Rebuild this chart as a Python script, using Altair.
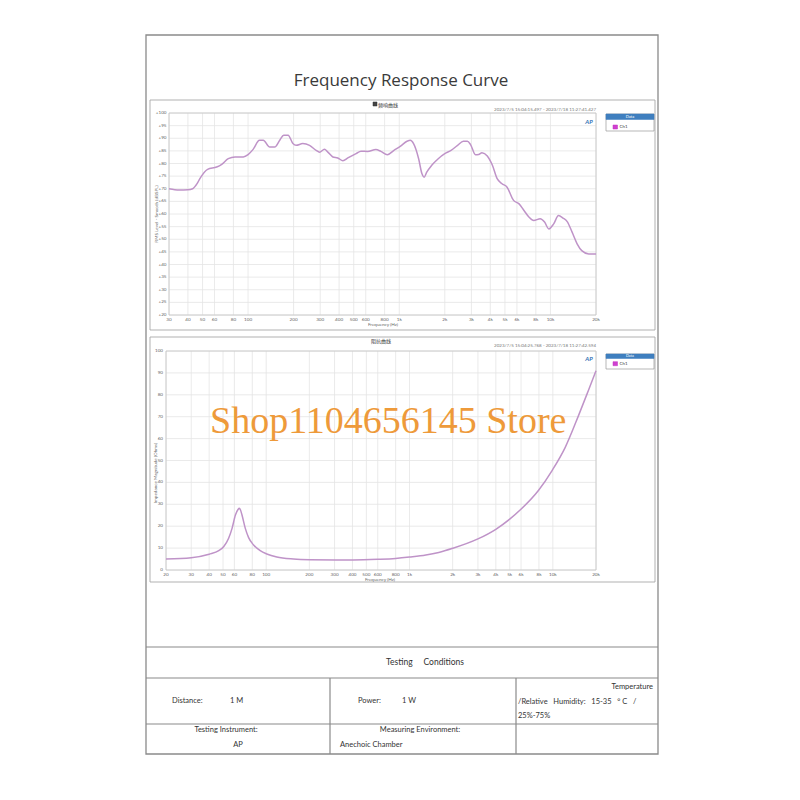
import altair as alt
import pandas as pd

# ---------------- data ----------------
top_freq = [30, 35, 40, 43, 46, 48, 54, 62, 67, 74, 82, 93, 100, 108, 119, 126, 139, 150, 162, 172,
            184, 198, 208, 230, 255, 282, 297, 320, 337, 364, 392, 424, 457, 518, 558, 617, 700, 755, 834, 922,
            1020, 1125, 1183, 1243, 1343, 1411, 1461, 1520, 1640, 1810, 2000, 2200, 2430, 2655, 2820, 2960, 3190, 3350, 3520, 3820,
            4130, 4440, 4780, 5150, 5700, 6200, 6680, 7200, 7750, 8550, 9140, 9750, 10500, 11300, 12100, 12900, 13900, 15000, 16100, 17900,
            20000]
top_db = [70.0, 69.5, 69.6, 70.0, 72.0, 74.0, 77.7, 78.6, 79.7, 81.9, 82.6, 82.6, 83.5, 85.6, 89.2, 89.2, 86.5, 86.5, 89.2, 91.2,
          91.2, 87.9, 87.2, 87.9, 87.2, 85.2, 84.5, 85.6, 84.5, 82.6, 82.2, 81.1, 82.2, 83.9, 84.9, 84.8, 85.5, 84.8, 83.5, 85.2,
          86.9, 88.8, 89.2, 87.9, 81.9, 76.0, 74.6, 76.6, 79.3, 81.9, 83.9, 85.2, 87.2, 88.8, 88.8, 87.5, 83.5, 83.6, 84.3, 83.0,
          79.3, 74.0, 72.0, 70.7, 65.4, 64.0, 61.4, 58.8, 57.4, 58.1, 56.8, 54.1, 56.1, 59.4, 58.4, 57.0, 52.8, 48.2, 45.5, 44.2,
          44.2]

bot_freq = [20, 30, 40, 46.7, 50.6, 54.7, 57.8, 61.0, 63.6, 64.9, 66.2, 67.8, 71.5, 75.4, 81.7, 90.9, 101, 118.6, 155, 202,
            305, 404, 603, 800, 1000, 1300, 1600, 2000, 3000, 4000, 5000, 5960, 7930, 9900, 12200, 15100, 17700, 20000]
bot_ohm = [5.0, 5.6, 7.2, 8.8, 10.7, 14.5, 19.0, 25.1, 27.6, 28.2, 27.4, 25.1, 19.0, 14.8, 11.4, 8.8, 7.3, 5.9, 5.0, 4.7,
           4.6, 4.6, 4.9, 5.3, 5.9, 6.8, 8.0, 9.9, 14.2, 18.6, 23.2, 27.6, 36.3, 45.5, 56.0, 70.5, 82.0, 91.0]

top_xticks = [30, 40, 50, 60, 80, 100, 200, 300, 400, 500, 600, 800, 1000, 2000, 3000, 4000, 5000, 6000, 8000, 10000, 20000]
bot_xticks = [20, 30, 40, 50, 60, 80, 100, 200, 300, 400, 500, 600, 800, 1000, 2000, 3000, 4000, 5000, 6000, 8000, 10000, 20000]
top_yticks = [20, 25, 30, 35, 40, 45, 50, 55, 60, 65, 70, 75, 80, 85, 90, 95, 100]
bot_yticks = [0, 10, 20, 30, 40, 50, 60, 70, 80, 90, 100]

NB = "\u00a0"
page_title = "Frequency Response Curve"
top_panel_title = "频响曲线"
bot_panel_title = "阻抗曲线"
top_stamp = "2023/7/5 15:04:15.497 - 2023/7/18 11:27:41.427"
bot_stamp = "2023/7/5 15:04:25.768 - 2023/7/18 11:27:42.594"
top_ytitle = "RMS Level - Smooth (dBSPL)"
bot_ytitle = "Impedance Magnitude (Ohms)"
xtitle = "Frequency (Hz)"
legend_head = "Data"
legend_item = "Ch1"
watermark = "Shop1104656145 Store"

# ---------------- styling ----------------
FONT = "Lato"
LINE = "#bf93c8"
GRID = "#e4e4e4"
AXT = "#666666"
one = pd.DataFrame({"k": [0]})


def flab(v):
    return f"{v // 1000}k" if v >= 1000 else str(v)


def box(x1, y1, x2, y2, stroke="#999999", fill="transparent", sw=1.0):
    return alt.Chart(one).mark_rect(stroke=stroke, fill=fill, strokeWidth=sw).encode(
        x=alt.value(x1), x2=alt.value(x2), y=alt.value(y1), y2=alt.value(y2))


def hline(x1, x2, y, color="#8a8a8a", sw=1.2):
    return alt.Chart(one).mark_rule(color=color, strokeWidth=sw).encode(
        x=alt.value(x1), x2=alt.value(x2), y=alt.value(y))


def vline(x, y1, y2, color="#8a8a8a", sw=1.2):
    return alt.Chart(one).mark_rule(color=color, strokeWidth=sw).encode(
        x=alt.value(x), y=alt.value(y1), y2=alt.value(y2))


def label(text, x, y, size=8, align="left", baseline="middle", color="#333333",
          font=FONT, angle=0, weight="normal", style="normal"):
    return alt.Chart(one).mark_text(
        align=align, baseline=baseline, fontSize=size, font=font, color=color,
        angle=angle, fontWeight=weight, fontStyle=style
    ).encode(x=alt.value(x), y=alt.value(y), text=alt.value(text))


def panel(freq, vals, xdom, xr, ydom, yr, xticks, yticks, ylabs, xlab_y, ylab_x):
    xs = alt.Scale(type="log", domain=xdom, range=xr, nice=False)
    ys = alt.Scale(type="linear", domain=ydom, range=yr, nice=False, zero=False)
    xt = pd.DataFrame({"v": xticks, "lab": [flab(v) for v in xticks]})
    yt = pd.DataFrame({"v": yticks, "lab": ylabs})
    curve = pd.DataFrame({"f": freq, "v": vals})
    layers = [
        alt.Chart(xt).mark_rule(color=GRID, strokeWidth=0.8).encode(
            x=alt.X("v:Q", scale=xs, axis=None), y=alt.value(yr[1]), y2=alt.value(yr[0])),
        alt.Chart(yt).mark_rule(color=GRID, strokeWidth=0.8).encode(
            y=alt.Y("v:Q", scale=ys, axis=None), x=alt.value(xr[0]), x2=alt.value(xr[1])),
        box(xr[0], yr[1], xr[1], yr[0], stroke="#c4c4c4", sw=0.8),
        alt.Chart(curve).mark_line(interpolate="monotone", color=LINE, strokeWidth=1.5).encode(
            x=alt.X("f:Q", scale=xs, axis=None), y=alt.Y("v:Q", scale=ys, axis=None)),
        alt.Chart(xt).mark_text(fontSize=4.6, font=FONT, color=AXT, baseline="middle").encode(
            x=alt.X("v:Q", scale=xs, axis=None), y=alt.value(xlab_y), text="lab:N"),
        alt.Chart(yt).mark_text(fontSize=4.6, font=FONT, color=AXT, align="right", baseline="middle").encode(
            y=alt.Y("v:Q", scale=ys, axis=None), x=alt.value(ylab_x), text="lab:N"),
    ]
    return layers


layers = []

# page frame
layers.append(box(138, 27, 650, 746, stroke="#8a8a8a", sw=1.3))
layers.append(label(page_title, 393, 73, size=17, align="center", color="#3a3a3a", font="Open Sans"))

# ---- top panel ----
layers.append(box(142, 92, 647, 322, stroke="#a8a8a8", sw=0.9))
layers.append(box(365, 94, 369, 98, stroke="#333333", fill="#444444", sw=0.5))
layers.append(label(top_panel_title, 370, 96.5, size=5, font="Noto Sans CJK SC", color="#333333"))
layers.append(label(top_stamp, 588, 102, size=4.5, align="right", color="#777777"))
layers += panel(top_freq, top_db, [30, 20000], [161, 588], [20, 100], [307, 105],
                top_xticks, top_yticks, [f"+{v}" for v in top_yticks], 311.5, 158.5)
layers.append(label(top_ytitle, 148.5, 206, size=4.6, align="center", angle=270, color=AXT))
layers.append(label(xtitle, 375, 316.5, size=4.6, align="center", color=AXT))
layers.append(label("AP", 581, 114, size=6, align="center", color="#2f6fb5", weight="bold", style="italic"))
# legend
layers.append(box(598, 106, 646, 123, stroke="#9a9a9a", fill="#ffffff", sw=0.7))
layers.append(box(598, 106, 646, 111.5, stroke="#3f7fbf", fill="#3f7fbf", sw=0.5))
layers.append(label(legend_head, 622, 109, size=4, align="center", color="#ffffff"))
layers.append(box(605, 117, 609.5, 121, stroke="#c030c0", fill="#d040d0", sw=0.5))
layers.append(label(legend_item, 611.5, 119, size=4.5, color="#444444"))

# ---- bottom panel ----
layers.append(box(142, 329, 647, 574, stroke="#a8a8a8", sw=0.9))
layers.append(label(bot_panel_title, 373, 332.5, size=5, align="center", font="Noto Sans CJK SC", color="#333333"))
layers.append(label(bot_stamp, 588, 338, size=4.5, align="right", color="#777777"))
layers += panel(bot_freq, bot_ohm, [20, 20000], [158, 588], [0, 100], [562, 343],
                bot_xticks, bot_yticks, [str(v) for v in bot_yticks], 566.7, 155)
layers.append(label(bot_ytitle, 148, 465, size=4.6, align="center", angle=270, color=AXT))
layers.append(label(xtitle, 372, 571.5, size=4.6, align="center", color=AXT))
layers.append(label("AP", 581, 351, size=6, align="center", color="#2f6fb5", weight="bold", style="italic"))
layers.append(box(598, 346, 646, 361, stroke="#9a9a9a", fill="#ffffff", sw=0.7))
layers.append(box(598, 346, 646, 350.5, stroke="#3f7fbf", fill="#3f7fbf", sw=0.5))
layers.append(label(legend_head, 622, 348.3, size=3.8, align="center", color="#ffffff"))
layers.append(box(605, 353.7, 609.5, 357.7, stroke="#c030c0", fill="#d040d0", sw=0.5))
layers.append(label(legend_item, 611.5, 355.7, size=4.5, color="#444444"))

# watermark
layers.append(label(watermark, 202, 425, size=38, baseline="alphabetic", font="Liberation Serif", color="#ee9a3a"))

# ---- table ----
layers.append(hline(138, 650, 639))
layers.append(hline(138, 650, 670))
layers.append(hline(138, 650, 716))
layers.append(vline(322, 670, 746))
layers.append(vline(508, 670, 746))
layers.append(label(f"Testing{NB*5}Conditions", 417, 654, size=8.5, align="center"))
layers.append(label("Distance:", 164, 693, size=7.5))
layers.append(label("1 M", 222, 693, size=7.5))
layers.append(label("Power:", 350, 693, size=7.5))
layers.append(label("1 W", 394, 693, size=7.5))
layers.append(label("Temperature", 645, 679, size=7.5, align="right"))
layers.append(label(f"/Relative{NB*3}Humidity:{NB*3}15-35{NB*3}\u00b0{NB}C{NB*3}/", 510, 694, size=7.5))
layers.append(label("25%-75%", 510, 708, size=7.5))
layers.append(label("Testing Instrument:", 218, 722, size=7.5, align="center"))
layers.append(label("AP", 230, 737, size=7.5, align="center"))
layers.append(label("Measuring Environment:", 412, 722, size=7.5, align="center"))
layers.append(label("Anechoic Chamber", 332, 737, size=7.5))

chart = alt.layer(*layers).resolve_scale(x="independent", y="independent").properties(
    width=784, height=784, padding=0, autosize=alt.AutoSizeParams(type="none"),
    background="#ffffff"
).configure_view(stroke=None)

chart.save("out.html", embed_options={"renderer": "svg", "actions": False})
